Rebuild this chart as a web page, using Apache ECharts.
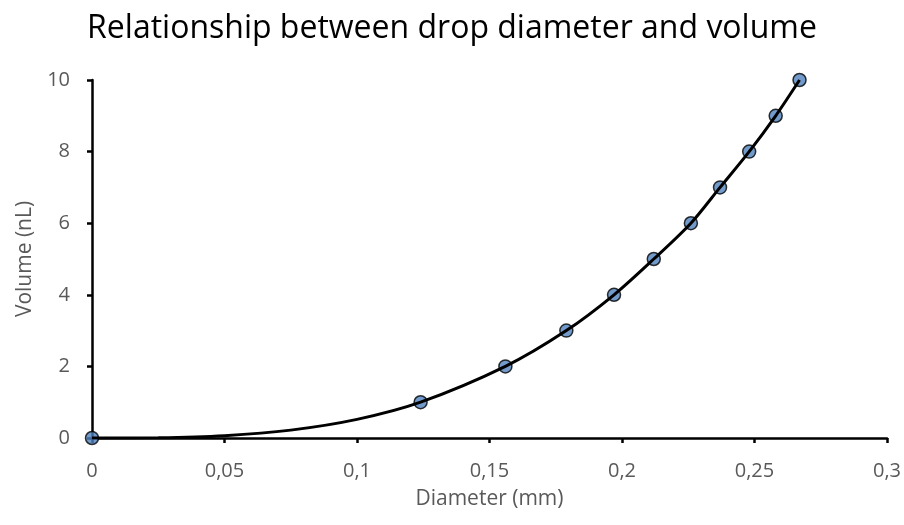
<!DOCTYPE html>
<html>
<head>
<meta charset="utf-8">
<script src="https://cdn.jsdelivr.net/npm/echarts@6/dist/echarts.min.js"></script>
<style>
  html, body { margin: 0; padding: 0; background: #fff; }
  #chart { width: 904px; height: 525px; }
</style>
</head>
<body>
<div id="chart"></div>
<script>
// measured drops: diameter (mm) vs volume (nL)
const diameters = [0, 0.124, 0.156, 0.179, 0.197, 0.212, 0.226, 0.237, 0.248, 0.258, 0.267]
const volumes = [0, 1, 2, 3, 4, 5, 6, 7, 8, 9, 10]

// trend line
const trendX = [0, 0.025, 0.05, 0.075, 0.1, 0.124, 0.156, 0.179, 0.197, 0.212, 0.226, 0.237, 0.248, 0.258, 0.267]
const trendY = [0, 0.008, 0.065, 0.22, 0.52, 1, 2, 3, 4, 5, 6, 7, 8, 9, 10]

const xTicks = [0, 0.05, 0.1, 0.15, 0.2, 0.25, 0.3]
const yTicks = [0, 2, 4, 6, 8, 10]

const font = '"Open Sans", "Liberation Sans", sans-serif'
const gray = '#595959'

const chart = echarts.init(document.getElementById('chart'))

const option = {
  backgroundColor: '#fff',
  animation: false,
  title: {
    text: 'Relationship between drop diameter and volume',
    left: 'center',
    top: 8,
    textStyle: { fontFamily: font, fontSize: 32, fontWeight: 'normal', color: '#000' },
  },
  grid: { left: 92, right: 16, top: 80, bottom: 87 },
  xAxis: {
    type: 'value',
    min: xTicks[0],
    max: xTicks[xTicks.length - 1],
    interval: 0.05,
    name: 'Diameter (mm)',
    nameLocation: 'middle',
    nameGap: 51,
    nameTextStyle: { fontFamily: font, fontSize: 21, color: gray },
    axisLine: { show: true, onZero: false, lineStyle: { color: '#000', width: 2.5 } },
    axisTick: { show: true, length: 5, lineStyle: { color: '#000', width: 2.5 } },
    axisLabel: {
      margin: 23,
      fontFamily: font, fontSize: 20, color: gray,
      formatter: (v) => String(+v.toFixed(2)).replace('.', ','),
    },
    splitLine: { show: false },
  },
  yAxis: {
    type: 'value',
    min: yTicks[0],
    max: yTicks[yTicks.length - 1],
    interval: 2,
    name: 'Volume (nL)',
    nameLocation: 'middle',
    nameGap: 56,
    nameTextStyle: { fontFamily: font, fontSize: 21, color: gray },
    axisLine: { show: true, lineStyle: { color: '#000', width: 2.5 } },
    axisTick: { show: true, length: 5, lineStyle: { color: '#000', width: 2.5 } },
    axisLabel: { margin: 22, fontFamily: font, fontSize: 20, color: gray },
    splitLine: { show: false },
  },
  series: [
    {
      type: 'scatter',
      data: diameters.map((d, i) => [d, volumes[i]]),
      symbolSize: 13,
      itemStyle: { color: '#4F81BD', borderColor: '#000', borderWidth: 1.5 },
      z: 2,
    },
    {
      type: 'line',
      data: trendX.map((d, i) => [d, trendY[i]]),
      smooth: 0.3,
      showSymbol: false,
      lineStyle: { color: '#000', width: 3 },
      z: 3,
    },
  ],
}

chart.setOption(option)
</script>
</body>
</html>
